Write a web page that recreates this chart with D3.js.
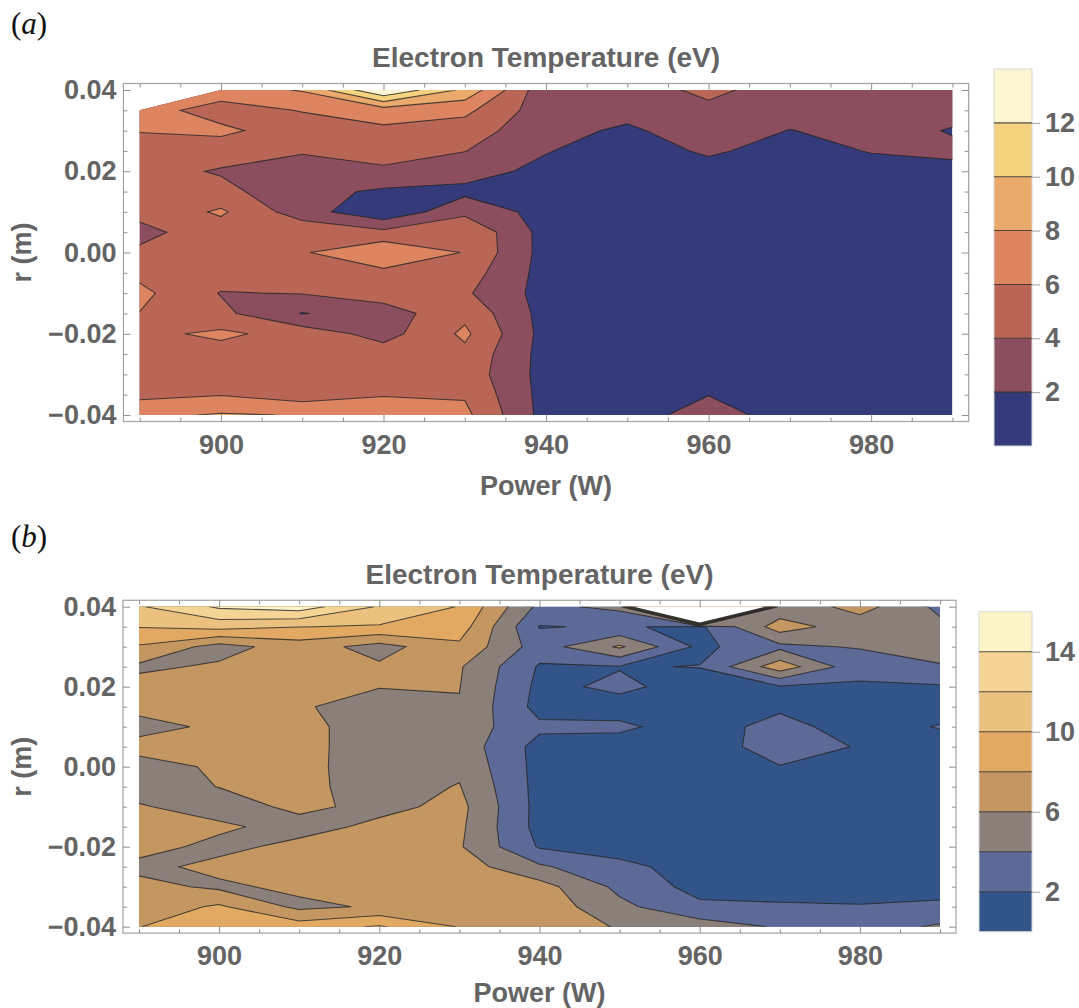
<!DOCTYPE html>
<html lang="en">
<head>
<meta charset="UTF-8">
<title>Electron Temperature (eV)</title>
<style>
  body { margin: 0; background: #fff; }
  svg text { font-family: "Liberation Sans", Arial, sans-serif; font-weight: bold; fill: #646464; }
  .axis text { font-size: 27px; }
  .title { font-size: 28px; }
  .label { font-size: 27px; }
  .tag { font-family: "Liberation Serif", "DejaVu Serif", serif; font-weight: normal; font-size: 31px; fill: #111; }
</style>
</head>
<body>
<script src="https://d3js.org/d3.v7.min.js"></script>
<script>
// grid of the measurement: power (W) columns, radius (m) rows from top to bottom
const power = [890, 900, 910, 920, 930, 940, 950, 960, 970, 980, 990];
const radius = [0.04, 0.035, 0.03, 0.025, 0.02, 0.015, 0.01, 0.005, 0, -0.005, -0.01, -0.015, -0.02, -0.025, -0.03, -0.035, -0.04];

// (a) electron temperature, eV  (null = no measurement)
const tempA = [
  [null, 7.0, 8.15, 14.0, 9.5, 2.5, 3.0, 4.5, 3.0, 3.0, 3.0],
  [6.8, 5.2, 6.1, 7.0, 6.5, 2.8, 2.6, 3.5, 2.8, 2.8, 2.5],
  [6.1, 6.4, 5.0, 5.6, 5.0, 2.6, 1.7, 3.0, 1.95, 2.6, 1.9],
  [5.0, 5.0, 4.2, 5.2, 4.05, 2.1, 1.0, 2.3, 1.2, 2.1, 2.3],
  [4.8, 3.8, 3.0, 3.5, 2.75, 1.5, 0.9, 1.2, 1.0, 1.2, 1.6],
  [4.8, 4.6, 2.6, 1.7, 1.5, 1.2, 1.0, 1.0, 0.9, 1.0, 1.1],
  [4.5, 6.3, 2.9, 0.4, 3.5, 1.2, 1.0, 0.9, 1.0, 1.0, 1.0],
  [3.5, 5.0, 5.5, 4.5, 5.8, 1.2, 0.9, 1.0, 1.0, 0.9, 1.0],
  [4.3, 5.2, 5.8, 7.8, 5.9, 1.2, 1.0, 1.0, 0.9, 1.0, 1.0],
  [5.5, 5.0, 5.0, 5.5, 5.0, 1.2, 1.0, 0.9, 1.0, 1.0, 0.9],
  [6.5, 3.9, 4.1, 5.0, 4.3, 1.2, 1.0, 1.0, 1.0, 0.9, 1.0],
  [5.95, 4.5, 1.9, 3.0, 5.5, 1.2, 0.9, 1.0, 1.0, 1.0, 1.0],
  [5.5, 6.4, 5.2, 3.2, 6.4, 1.2, 1.0, 1.0, 0.9, 1.0, 1.0],
  [5.2, 5.2, 5.3, 5.0, 5.5, 1.2, 1.0, 1.0, 1.0, 1.0, 0.9],
  [5.0, 5.3, 5.4, 5.2, 5.2, 1.2, 1.0, 1.3, 1.0, 1.0, 1.0],
  [5.5, 5.9, 5.0, 5.9, 5.8, 1.2, 1.0, 1.95, 1.0, 1.0, 1.0],
  [7.5, 8.2, 7.9, 7.0, 6.5, 1.2, 1.0, 3.0, 1.0, 1.0, 1.0]
];

// (b) electron temperature, eV
const tempB = [
  [11.8, 14.3, 15.0, 11.8, 9.9, 3.5, 4.5, 80, 4.5, 6.8, 3.5],
  [10.1, 10.7, 10.05, 9.8, 9.0, 1.9, 2.2, 1.6, 7.0, 4.8, 4.5],
  [7.8, 5.2, 7.0, 5.2, 7.6, 3.0, 6.3, 1.5, 3.5, 4.2, 4.5],
  [5.6, 6.3, 6.8, 6.3, 6.2, 1.8, 1.9, 2.05, 7.2, 2.5, 3.9],
  [6.8, 7.2, 6.05, 6.1, 6.05, 1.5, 2.4, 1.2, 1.8, 1.8, 1.8],
  [6.6, 6.9, 6.3, 4.8, 5.9, 1.3, 1.3, 1.2, 1.7, 1.2, 1.3],
  [5.3, 6.4, 6.6, 5.0, 5.2, 2.4, 2.3, 1.2, 2.6, 1.2, 2.1],
  [6.7, 6.6, 6.3, 5.5, 5.2, 1.3, 1.3, 1.2, 2.7, 1.9, 1.3],
  [5.2, 6.3, 6.4, 5.3, 5.6, 1.3, 1.2, 1.2, 1.95, 1.2, 1.3],
  [5.0, 6.05, 6.5, 5.2, 6.1, 1.3, 1.2, 1.2, 1.2, 1.2, 1.3],
  [6.2, 5.0, 6.5, 5.4, 6.6, 1.3, 1.2, 1.2, 1.2, 1.2, 1.3],
  [6.6, 6.4, 5.2, 6.5, 6.4, 1.3, 1.2, 1.2, 1.2, 1.2, 1.3],
  [6.8, 5.4, 6.6, 7.0, 6.2, 1.8, 1.2, 1.2, 1.2, 1.2, 1.3],
  [5.4, 6.6, 6.9, 7.2, 7.0, 4.3, 2.5, 1.2, 1.2, 1.2, 1.3],
  [6.7, 5.6, 6.5, 7.3, 7.5, 6.8, 3.5, 1.3, 1.3, 1.3, 1.4],
  [6.8, 8.3, 5.5, 6.27, 7.3, 7.3, 4.5, 2.4, 2.2, 2.1, 2.3],
  [7.95, 9.2, 9.0, 10.2, 7.9, 7.5, 5.8, 5.0, 3.8, 3.0, 4.3]
];

const levelsA = [2, 4, 6, 8, 10, 12];
const levelsB = [2, 4, 6, 8, 10, 12, 14, 16];
const colorsA = ['#343a7a', '#8c4e5f', '#b96656', '#dd8461', '#e9aa6b', '#f5d27f', '#fdf6d3'];
const colorsB = ['#325489', '#5d6996', '#8b7f79', '#c39662', '#e1a962', '#ebc17f', '#f4d595', '#fdf3c9', '#ffffff'];
const legendTicksA = [2, 4, 6, 8, 10, 12];
const legendTicksB = [2, 6, 10, 14];
const xTicks = [900, 920, 940, 960, 980];
const yTicks = [0.04, 0.02, 0, -0.02, -0.04];

const panels = [
  { id: 'a', tag: 'a', data: tempA, levels: levelsA, colors: colorsA, legendTicks: legendTicksA, legendMax: 14,
    left: 139.7, right: 952.4, top: 90, bottom: 415,
    barX: 994, barW: 38, barTop: 69, barBottom: 446, titleY: 67, tagY: 34, xLabelY: 494.5 },
  { id: 'b', tag: 'b', data: tempB, levels: levelsB, colors: colorsB, legendTicks: legendTicksB, legendMax: 16,
    left: 139, right: 940, top: 606.7, bottom: 926.7,
    barX: 979, barW: 53, barTop: 611.7, barBottom: 931.7, titleY: 583.5, tagY: 547, xLabelY: 1001.5 }
];

const svg = d3.select('body').append('svg').attr('width', 1079).attr('height', 1008);

panels.forEach(function (p) {
  const nx = power.length, ny = radius.length;
  const x = d3.scaleLinear().domain([power[0], power[nx - 1]]).range([p.left, p.right]);
  const y = d3.scaleLinear().domain([radius[ny - 1], radius[0]]).range([p.bottom, p.top]);
  const padX = (p.right - p.left) * 0.02, padY = (p.bottom - p.top) * 0.02;
  const frame = { l: p.left - padX, r: p.right + padX, t: p.top - padY, b: p.bottom + padY };

  // missing points only matter for the hull; give them a neighbour value for interpolation
  const filled = p.data.map((row, j) => row.map((v, i) => v == null ? p.data[j + 1][i] : v));

  // grid cell centres -> data coordinates
  const gx = d3.scaleLinear().domain([0.5, nx - 0.5]).range([x(power[0]), x(power[nx - 1])]);
  const gy = d3.scaleLinear().domain([0.5, ny - 0.5]).range([y(radius[0]), y(radius[ny - 1])]);
  const path = d3.geoPath(d3.geoTransform({
    point: function (a, b) { this.stream.point(gx(a), gy(b)); }
  }));
  const bands = d3.contours().size([nx, ny]).thresholds(p.levels)(filled.flat());

  const pts = [];
  p.data.forEach((row, j) => row.forEach((v, i) => {
    if (v != null) pts.push([x(power[i]), y(radius[j])]);
  }));
  const hull = 'M' + d3.polygonHull(pts).join('L') + 'Z';
  svg.append('clipPath').attr('id', 'clip-' + p.id).append('path').attr('d', hull);

  const plot = svg.append('g').attr('clip-path', 'url(#clip-' + p.id + ')');
  plot.append('path').attr('d', hull).attr('fill', p.colors[0]);
  plot.selectAll('path.band')
    .data(bands)
    .join('path')
    .attr('class', 'band')
    .attr('d', path)
    .attr('fill', (d, i) => p.colors[i + 1]);
  plot.selectAll('path.iso')
    .data(bands)
    .join('path')
    .attr('class', 'iso')
    .attr('d', path)
    .attr('fill', 'none')
    .attr('stroke', '#262626')
    .attr('stroke-opacity', 0.8)
    .attr('stroke-width', 1.1);

  // frame with inward ticks on all sides
  svg.append('rect')
    .attr('x', frame.l).attr('y', frame.t)
    .attr('width', frame.r - frame.l).attr('height', frame.b - frame.t)
    .attr('fill', 'none').attr('stroke', '#a3a3a3').attr('stroke-width', 1.2);

  const xMinor = d3.range(power[0], power[nx - 1] + 1, 5).filter(v => xTicks.indexOf(v) < 0);
  const yMinor = d3.range(-8, 9).map(k => k * 0.005).filter(v => !yTicks.some(t => Math.abs(t - v) < 1e-9));
  const noDomain = g => g.select('.domain').remove();

  const sides = [
    { axis: d3.axisBottom, scale: x, major: xTicks, minor: xMinor, tr: [0, frame.b], label: d3.format('d'), pad: 13 },
    { axis: d3.axisTop, scale: x, major: xTicks, minor: xMinor, tr: [0, frame.t] },
    { axis: d3.axisLeft, scale: y, major: yTicks, minor: yMinor, tr: [frame.l, 0], label: d3.format('.2f'), pad: 7 },
    { axis: d3.axisRight, scale: y, major: yTicks, minor: yMinor, tr: [frame.r, 0] }
  ];
  sides.forEach(function (s) {
    svg.append('g')
      .attr('class', 'axis')
      .attr('color', '#8f8f8f')
      .attr('transform', 'translate(' + s.tr[0] + ',' + s.tr[1] + ')')
      .call(s.axis(s.scale).tickValues(s.minor).tickSize(-4).tickFormat(''))
      .call(noDomain);
    svg.append('g')
      .attr('class', 'axis')
      .attr('color', '#8f8f8f')
      .attr('transform', 'translate(' + s.tr[0] + ',' + s.tr[1] + ')')
      .call(s.axis(s.scale).tickValues(s.major).tickSize(-7)
        .tickPadding(s.pad || 3).tickFormat(s.label || ''))
      .call(noDomain);
  });

  // texts
  const cx = (frame.l + frame.r) / 2;
  svg.append('text').attr('class', 'title').attr('x', cx).attr('y', p.titleY)
    .attr('text-anchor', 'middle').text('Electron Temperature (eV)');
  svg.append('text').attr('class', 'label').attr('x', cx).attr('y', p.xLabelY)
    .attr('text-anchor', 'middle').text('Power (W)');
  svg.append('text').attr('class', 'label')
    .attr('transform', 'translate(31,' + ((p.top + p.bottom) / 2) + ') rotate(-90)')
    .attr('text-anchor', 'middle').text('r (m)');
  const tag = svg.append('text').attr('class', 'tag').attr('x', 11).attr('y', p.tagY);
  tag.append('tspan').text('(');
  tag.append('tspan').attr('font-style', 'italic').text(p.tag);
  tag.append('tspan').text(')');

  // colour bar
  const cb = d3.scaleLinear().domain([0, p.legendMax]).range([p.barBottom, p.barTop]);
  const edges = [0].concat(p.levels.filter(l => l < p.legendMax), [p.legendMax]);
  const bar = svg.append('g');
  bar.selectAll('rect')
    .data(d3.pairs(edges))
    .join('rect')
    .attr('x', p.barX)
    .attr('width', p.barW)
    .attr('y', d => cb(d[1]))
    .attr('height', d => cb(d[0]) - cb(d[1]))
    .attr('fill', (d, i) => p.colors[i]);
  bar.append('rect')
    .attr('x', p.barX).attr('y', p.barTop)
    .attr('width', p.barW).attr('height', p.barBottom - p.barTop)
    .attr('fill', 'none').attr('stroke', '#d8d8d8').attr('stroke-width', 1);
  bar.selectAll('line')
    .data(edges.slice(1, -1))
    .join('line')
    .attr('x1', p.barX).attr('x2', p.barX + p.barW)
    .attr('y1', d => cb(d)).attr('y2', d => cb(d))
    .attr('stroke', '#262626').attr('stroke-opacity', 0.8).attr('stroke-width', 1.1);
  svg.append('g')
    .attr('class', 'axis')
    .attr('color', '#a0a0a0')
    .attr('transform', 'translate(' + (p.barX + p.barW) + ',0)')
    .call(d3.axisRight(cb).tickValues(p.legendTicks).tickSize(8).tickPadding(5).tickFormat(d3.format('d')))
    .call(noDomain);
});
</script>
</body>
</html>
